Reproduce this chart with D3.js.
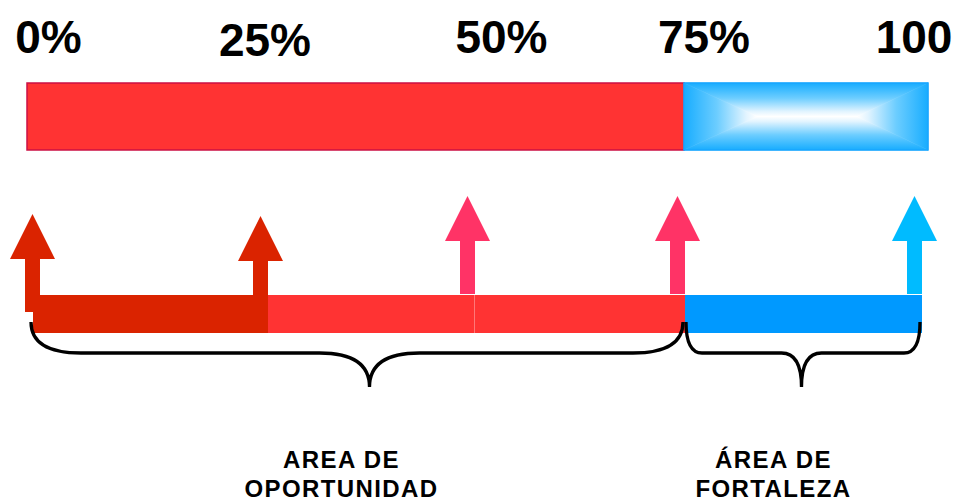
<!DOCTYPE html>
<html>
<head>
<meta charset="utf-8">
<script src="https://cdn.jsdelivr.net/npm/d3@7"></script>
<style>
	html, body { margin: 0; padding: 0; background: #fff; overflow: hidden; }
	text { font-family: 'Liberation Sans', Arial, sans-serif; font-weight: bold; fill: #000; }
</style>
</head>
<body>
<svg id="svg" width="956" height="503"></svg>
<script>
const width = 956;
const height = 503;

// data
const tickValues = [0, 25, 50, 75, 100];
const tickLabels = ['0%', '25%', '50%', '75%', '100'];
const topSegments = [[0, 75], [75, 100]];
const topColors = ['#FF3333', 'url(#blueGlow)'];
const barSegments = [[0, 75], [0, 25], [75, 100]];
const barColors = ['#FF3333', '#DA2300', '#0099FF'];
const arrowValues = [0, 25, 50, 75, 100];
const arrowColors = ['#DA2300', '#DA2300', '#FF3366', '#FF3366', '#00BBFF'];
const areaRanges = [[0, 75], [75, 100]];
const areaLabels = [['AREA DE', 'OPORTUNIDAD'], ['ÁREA DE', 'FORTALEZA']];

// layout
const topBar = { y: 83, h: 67 };
const bottomBar = { y: 295, h: 38, overhang: 7 };
const shaftWidth = 15;
const headWidth = 45;
const headHeight = 45;
const brace = { top: 322, mid: 353, tip: 387 };

let xTop;
let xBottom;
let xLabel;

const svg = d3.select('#svg');
buildScales();
addDefs();
renderTopBar();
renderLabels();
renderArrows();
renderBottomBar();
renderBraces();
renderAreaLabels();


function buildScales() {
	xTop = d3.scaleLinear()
	            .domain([0, 75, 100])
	            .range([27, 684, 928]);

	// right edge of each arrow shaft / bar step
	xBottom = d3.scaleLinear()
	            .domain(tickValues)
	            .range([40, 268, 475, 685, 922]);

	xLabel = d3.scaleLinear()
	            .domain(tickValues)
	            .range([48.5, 265, 501.5, 704, 914]);
}

function addDefs() {
	const defs = svg.append('defs');
	const stops = [[0, '#18ADFF'], [0.45, '#6CCDFF'], [0.85, '#E2F4FF'], [1, '#FFFFFF']];
	const dirs = {
		gTop: [0, 0, 0, 1],
		gBottom: [0, 1, 0, 0],
		gLeft: [0, 0, 1, 0],
		gRight: [1, 0, 0, 0]
	};
	Object.keys(dirs).forEach(id => {
		const g = defs.append('linearGradient')
			.attr('id', id)
			.attr('x1', dirs[id][0]).attr('y1', dirs[id][1])
			.attr('x2', dirs[id][2]).attr('y2', dirs[id][3]);
		g.selectAll('stop')
			.data(stops)
			.enter()
			.append('stop')
			.attr('offset', d => d[0])
			.attr('stop-color', d => d[1]);
	});
}

function renderTopBar() {
	// red part
	svg.append('rect')
		.attr('x', xTop(topSegments[0][0]))
		.attr('y', topBar.y)
		.attr('width', xTop(topSegments[0][1]) - xTop(topSegments[0][0]))
		.attr('height', topBar.h)
		.attr('fill', topColors[0])
		.attr('stroke', '#CC1144')
		.attr('stroke-width', 1.5);

	// blue part, rectangular "path" gradient built from four pieces
	const x0 = xTop(topSegments[1][0]);
	const x1 = xTop(topSegments[1][1]);
	const y0 = topBar.y;
	const y1 = topBar.y + topBar.h;
	const cy = (y0 + y1) / 2;
	const cx0 = x0 + (x1 - x0) * 0.3;
	const cx1 = x1 - (x1 - x0) * 0.29;
	const pieces = [
		{ pts: [[x0, y0], [x1, y0], [cx1, cy], [cx0, cy]], fill: 'gTop' },
		{ pts: [[x0, y1], [x1, y1], [cx1, cy], [cx0, cy]], fill: 'gBottom' },
		{ pts: [[x0, y0], [cx0, cy], [x0, y1]], fill: 'gLeft' },
		{ pts: [[x1, y0], [cx1, cy], [x1, y1]], fill: 'gRight' }
	];
	svg.append('g')
		.selectAll('path')
		.data(pieces)
		.enter()
		.append('path')
		.attr('d', d => 'M' + d.pts.join('L') + 'Z')
		.attr('fill', d => 'url(#' + d.fill + ')')
		.attr('stroke', d => 'url(#' + d.fill + ')')
		.attr('stroke-width', 0.6);

	svg.append('rect')
		.attr('x', x0)
		.attr('y', y0)
		.attr('width', x1 - x0)
		.attr('height', topBar.h)
		.attr('fill', 'none')
		.attr('stroke', '#1AA6FF')
		.attr('stroke-width', 1.5);
}

function renderLabels() {
	svg.selectAll(null)
		.data(tickValues)
		.enter()
		.append('text')
		.attr('x', d => xLabel(d))
		.attr('y', d => d === 25 ? 56 : 53)
		.attr('text-anchor', 'middle')
		.style('font-size', '46px')
		.text((d, i) => tickLabels[i]);
}

function arrowPath(v, i) {
	const right = xBottom(v);
	const c = right - shaftWidth / 2;
	const low = i < 2;
	const tip = low ? 214 + i * 2 : 196;
	const base = tip + headHeight;
	const bottom = low ? (i === 0 ? 312 : 330) : bottomBar.y - 1;
	return 'M' + (c - shaftWidth / 2) + ',' + bottom +
		'L' + (c - shaftWidth / 2) + ',' + base +
		'L' + (c - headWidth / 2) + ',' + base +
		'L' + c + ',' + tip +
		'L' + (c + headWidth / 2) + ',' + base +
		'L' + (c + shaftWidth / 2) + ',' + base +
		'L' + (c + shaftWidth / 2) + ',' + bottom + 'Z';
}

function renderArrows() {
	svg.append('g')
		.selectAll('path')
		.data(arrowValues)
		.enter()
		.append('path')
		.attr('d', (d, i) => arrowPath(d, i))
		.attr('fill', (d, i) => arrowColors[i]);
}

function barX(v) {
	return v === 0 ? xBottom(0) - bottomBar.overhang : xBottom(v);
}

function renderBottomBar() {
	svg.append('g')
		.selectAll('rect')
		.data(barSegments)
		.enter()
		.append('rect')
		.attr('x', d => barX(d[0]))
		.attr('y', bottomBar.y)
		.attr('width', d => xBottom(d[1]) - barX(d[0]))
		.attr('height', bottomBar.h)
		.attr('fill', (d, i) => barColors[i]);

	// faint seam at 50%
	svg.append('line')
		.attr('x1', xBottom(50) - 0.5)
		.attr('x2', xBottom(50) - 0.5)
		.attr('y1', bottomBar.y)
		.attr('y2', bottomBar.y + bottomBar.h)
		.attr('stroke', '#FF7777')
		.attr('stroke-width', 1);
}

function bracePath(x0, x1, tipX, r, t) {
	return 'M' + x0 + ',' + brace.top +
		'Q' + x0 + ',' + brace.mid + ' ' + (x0 + r) + ',' + brace.mid +
		'L' + (tipX - t) + ',' + brace.mid +
		'Q' + tipX + ',' + brace.mid + ' ' + tipX + ',' + brace.tip +
		'Q' + tipX + ',' + brace.mid + ' ' + (tipX + t) + ',' + brace.mid +
		'L' + (x1 - r) + ',' + brace.mid +
		'Q' + x1 + ',' + brace.mid + ' ' + x1 + ',' + brace.top;
}

function renderBraces() {
	svg.append('g')
		.selectAll('path')
		.data(areaRanges)
		.enter()
		.append('path')
		.attr('d', d => {
			const x0 = barX(d[0]) + (d[0] === 0 ? -2 : 1);
			const x1 = xBottom(d[1]) - 2;
			const tipX = xBottom((d[0] + d[1]) / 2) - 2;
			const big = (x1 - x0) > 400;
			return bracePath(x0, x1, tipX, big ? 50 : 16, big ? 50 : 20);
		})
		.attr('fill', 'none')
		.attr('stroke', '#000')
		.attr('stroke-width', 3.3);
}

function renderAreaLabels() {
	const t = svg.append('g')
		.selectAll('text')
		.data(areaRanges)
		.enter()
		.append('text')
		.attr('text-anchor', 'middle')
		.style('font-size', '24px')
		.style('letter-spacing', '1.4px');

	t.selectAll('tspan')
		.data((d, i) => areaLabels[i].map(line => ({ line: line, x: xBottom((d[0] + d[1]) / 2) - 30 })))
		.enter()
		.append('tspan')
		.attr('x', d => d.x)
		.attr('y', (d, i) => 468 + i * 29)
		.text(d => d.line);
}
</script>
</body>
</html>
